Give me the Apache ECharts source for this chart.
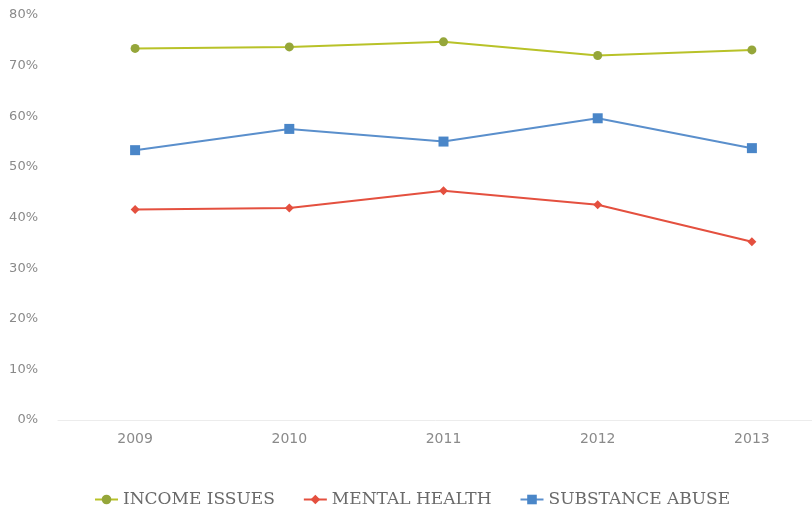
<!DOCTYPE html>
<html>
<head>
<meta charset="utf-8">
<script src="https://cdn.jsdelivr.net/npm/echarts@6/dist/echarts.min.js"></script>
<style>
html,body{margin:0;padding:0;background:#fff;}
#chart{width:812px;height:512px;}
</style>
</head>
<body>
<div id="chart"></div>
<script>
const years = ['2009', '2010', '2011', '2012', '2013'];
const incomeIssues = [73.4, 73.7, 74.7, 72.0, 73.1];
const mentalHealth = [41.6, 41.9, 45.3, 42.5, 35.2];
const substanceAbuse = [53.3, 57.5, 55.0, 59.6, 53.7];

const chart = echarts.init(document.getElementById('chart'), null, {renderer: 'canvas'});
const labelFont = {color: '#8a8a8a', fontFamily: 'DejaVu Sans', fontSize: 13};
chart.setOption({
  animation: false,
  backgroundColor: '#fff',
  grid: {left: 58, top: 15, width: 771, height: 405, outerBoundsMode: 'none', containLabel: false},
  legend: {
    top: 486,
    left: 89,
    itemWidth: 23,
    itemHeight: 12,
    itemGap: 28,
    textStyle: {fontFamily: 'DejaVu Serif', fontSize: 17, color: '#6a6a6a'},
    data: ['INCOME ISSUES', 'MENTAL HEALTH', 'SUBSTANCE ABUSE']
  },
  xAxis: {
    type: 'category',
    data: years,
    boundaryGap: true,
    axisLine: {lineStyle: {color: '#ececec'}},
    axisTick: {show: false},
    axisLabel: Object.assign({margin: 12}, labelFont, {fontSize: 14}),
    splitLine: {show: false}
  },
  yAxis: {
    type: 'value',
    min: 0,
    max: 80,
    interval: 10,
    axisLine: {show: false},
    axisTick: {show: false},
    splitLine: {show: false},
    axisLabel: Object.assign({margin: 20, formatter: '{value}%'}, labelFont)
  },
  series: [
    {
      name: 'INCOME ISSUES',
      type: 'line',
      data: incomeIssues,
      symbol: 'circle',
      symbolSize: 9,
      lineStyle: {color: '#b8c228', width: 2},
      itemStyle: {color: '#95a63a'}
    },
    {
      name: 'MENTAL HEALTH',
      type: 'line',
      data: mentalHealth,
      symbol: 'diamond',
      symbolSize: 9,
      lineStyle: {color: '#e4503f', width: 2},
      itemStyle: {color: '#e4503f'}
    },
    {
      name: 'SUBSTANCE ABUSE',
      type: 'line',
      data: substanceAbuse,
      symbol: 'rect',
      symbolSize: 10,
      lineStyle: {color: '#5a8fcc', width: 2},
      itemStyle: {color: '#4a86c8'}
    }
  ]
});
</script>
</body>
</html>
